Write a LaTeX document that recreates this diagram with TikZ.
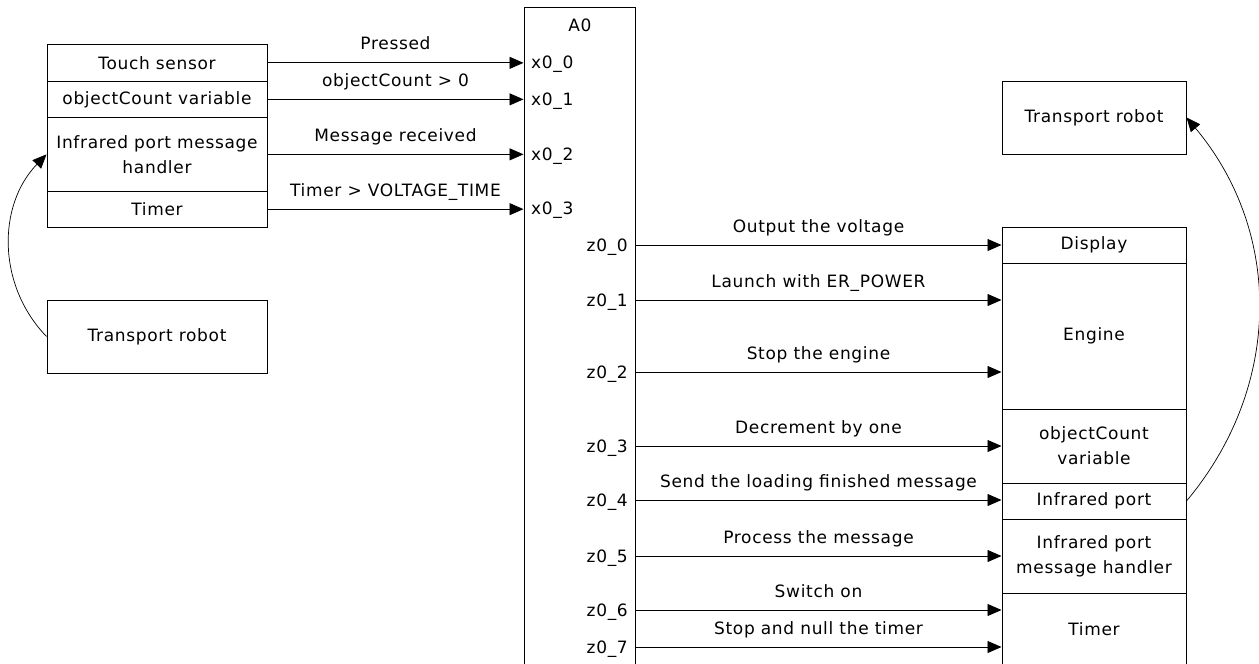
\documentclass[tikz,border=0pt]{standalone}
\usepackage{fontspec}
\setmainfont{DejaVu Sans}[LetterSpace=4]
\usetikzlibrary{arrows.meta}
\begin{document}
\begin{tikzpicture}[x=1pt,y=-1pt,
  every node/.style={font=\fontsize{17}{25}\selectfont},
  box/.style={draw, line width=1pt, inner sep=0pt, align=center},
  lbox/.style={box, minimum width=220pt},
  rbox/.style={box, minimum width=184pt},
  arr/.style={line width=0.9pt, -{Triangle[length=14pt,width=12pt]}},
  carr/.style={line width=0.7pt, -{Triangle[length=14pt,width=12pt]}},
  lbl/.style={midway, anchor=base, yshift=13pt, inner sep=0pt},
  port/.style={inner sep=0pt}
]
\useasboundingbox (0,0) rectangle (1259,664);

% left block
\node[lbox, minimum height=36.3pt] (ts) at (157,62.85) {Touch sensor};
\node[lbox, minimum height=36.7pt] (oc) at (157,99.35) {objectCount variable};
\node[lbox, minimum height=73.3pt] (ih) at (157,154.35) {Infrared port message\\handler};
\node[lbox, minimum height=36.3pt] (tm) at (157,209.15) {Timer};
\node[lbox, minimum height=73pt] (ltr) at (157,336.5) {Transport robot};

% central block
\node[box, minimum width=111pt, minimum height=673pt] (a0) at (579.5,343.5) {};
\node[port] (a0l) at (580,25) {A0};
\node[port, anchor=base west] (x0) at (531,68) {x0\_0};
\node[port, anchor=base west] (x1) at (531,105) {x0\_1};
\node[port, anchor=base west] (x2) at (531,160) {x0\_2};
\node[port, anchor=base west] (x3) at (531,214) {x0\_3};

\foreach \i/\y in {0/245,1/300,2/372,3/446,4/500,5/556,6/610,7/647}{
  \node[port, anchor=base east] (z\i) at (628,\y+6) {z0\_\i};
  \coordinate (zp\i) at (579.5,\y);
}

% right block
\node[rbox, minimum height=36pt] (disp) at (1094,245) {Display};
\node[rbox, minimum height=146pt] (eng) at (1094,336) {Engine};
\node[rbox, minimum height=74pt] (ocv) at (1094,446) {objectCount\\variable};
\node[rbox, minimum height=36pt] (ip) at (1094,501) {Infrared port};
\node[rbox, minimum height=74pt] (iph) at (1094,556) {Infrared port\\message handler};
\node[rbox, minimum height=72pt] (tmr) at (1094,629) {Timer};
\node[rbox, minimum height=73pt] (rtr) at (1094,117.5) {Transport robot};

% inputs
\draw[arr] (ts.east) -- (ts.east -| a0.west) node[lbl] {Pressed};
\draw[arr] (oc.east) -- (oc.east -| a0.west) node[lbl] {objectCount > 0};
\draw[arr] (ih.east) -- (ih.east -| a0.west) node[lbl] {Message received};
\draw[arr] (tm.east) -- (tm.east -| a0.west) node[lbl] {Timer > VOLTAGE\_TIME};

% outputs
\draw[arr] (a0.east |- zp0) -- (disp.west |- zp0) node[lbl] {Output the voltage};
\draw[arr] (a0.east |- zp1) -- (eng.west |- zp1) node[lbl] {Launch with ER\_POWER};
\draw[arr] (a0.east |- zp2) -- (eng.west |- zp2) node[lbl] {Stop the engine};
\draw[arr] (a0.east |- zp3) -- (ocv.west |- zp3) node[lbl] {Decrement by one};
\draw[arr] (a0.east |- zp4) -- (ip.west |- zp4) node[lbl] {Send the loading finished message};
\draw[arr] (a0.east |- zp5) -- (iph.west |- zp5) node[lbl] {Process the message};
\draw[arr] (a0.east |- zp6) -- (tmr.west |- zp6) node[lbl] {Switch on};
\draw[arr] (a0.east |- zp7) -- (tmr.west |- zp7) node[lbl] {Stop and null the timer};

% curved links
\draw[carr] (ltr.west) to[bend left=44] (ih.west);
\draw[carr] (ip.east) to[bend right=40] (rtr.east);
\end{tikzpicture}
\end{document}
